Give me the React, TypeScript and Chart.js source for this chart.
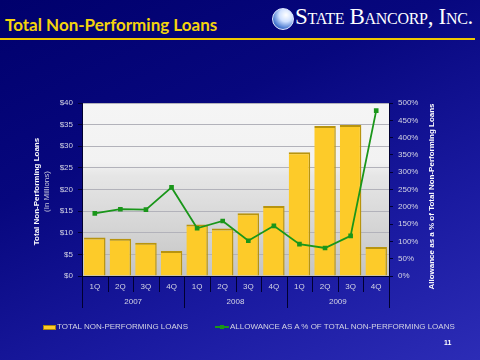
import React, { useEffect, useRef } from 'react';
import { Chart, registerables } from 'chart.js';

Chart.register(...registerables);

const FONT = '"Liberation Sans", Arial, sans-serif';

const quarters = ['1Q', '2Q', '3Q', '4Q', '1Q', '2Q', '3Q', '4Q', '1Q', '2Q', '3Q', '4Q'];
const years = ['2007', '2008', '2009'];
const nonPerformingLoans = [8.9, 8.6, 7.7, 5.8, 11.9, 11.0, 14.5, 16.2, 28.6, 34.7, 34.9, 6.7];
const allowancePct = [181, 193, 192, 256, 138, 159, 102, 145, 92, 81, 116, 478];

const barLabel = 'TOTAL NON-PERFORMING LOANS';
const lineLabel = 'ALLOWANCE AS A % OF TOTAL NON-PERFORMING LOANS';
const leftTitle = 'Total Non-Performing Loans';
const leftSubTitle = '(In Millions)';
const rightTitle = 'Allowance as a % of Total Non-Performing Loans';

const TICK_COLOR = '#d4d4e4';
const DARK = '#000030';

const plotBg = {
  id: 'plotBg',
  beforeDraw(chart: any) {
    const { ctx, chartArea: a } = chart;
    const g = ctx.createLinearGradient(0, a.top, 0, a.bottom);
    g.addColorStop(0, '#f5f5f5');
    g.addColorStop(0.34, '#f2f2f2');
    g.addColorStop(0.42, '#e6e6e6');
    g.addColorStop(0.7, '#d6d6d6');
    g.addColorStop(1, '#c4c4c4');
    ctx.save();
    ctx.fillStyle = g;
    ctx.fillRect(a.left, a.top, a.right - a.left, a.bottom - a.top);
    ctx.restore();
  },
};

const extras = {
  id: 'extras',
  afterDraw(chart: any) {
    const { ctx, chartArea } = chart;
    const x = chart.scales.x;
    const n = quarters.length;
    const step = (x.right - x.left) / n;
    const bottom = chartArea.bottom;
    ctx.save();
    ctx.strokeStyle = DARK;
    ctx.lineWidth = 1;
    for (let i = 0; i <= n; i++) {
      const px = Math.round(x.left + i * step) + 0.5;
      const isYear = i % 4 === 0;
      ctx.beginPath();
      ctx.moveTo(px, bottom);
      ctx.lineTo(px, bottom + (isYear ? 32 : 16));
      ctx.stroke();
    }
    ctx.fillStyle = TICK_COLOR;
    ctx.font = '8px ' + FONT;
    ctx.textAlign = 'center';
    ctx.textBaseline = 'middle';
    years.forEach((yr, j) => {
      const cx = x.left + (j * 4 + 2) * step;
      ctx.fillText(yr, cx, bottom + 26);
    });

    // left axis titles
    const yScale = chart.scales.y;
    const cy = (yScale.top + yScale.bottom) / 2 + 2;
    ctx.save();
    ctx.translate(37, cy);
    ctx.rotate(-Math.PI / 2);
    ctx.fillStyle = '#ffffff';
    ctx.font = 'bold 8px ' + FONT;
    ctx.fillText(leftTitle, 0, 0);
    ctx.restore();
    ctx.save();
    ctx.translate(47, cy);
    ctx.rotate(-Math.PI / 2);
    ctx.fillStyle = '#c8c8dc';
    ctx.font = '8px ' + FONT;
    ctx.fillText(leftSubTitle, 0, 0);
    ctx.restore();

    // right axis title
    ctx.save();
    ctx.translate(432, cy + 5);
    ctx.rotate(-Math.PI / 2);
    ctx.fillStyle = '#ffffff';
    ctx.font = 'bold 8px ' + FONT;
    ctx.fillText(rightTitle, 0, 0);
    ctx.restore();
    ctx.restore();
  },
};

export default function App() {
  const ref = useRef<HTMLCanvasElement>(null);

  useEffect(() => {
    if (!ref.current) return;
    const chart = new Chart(ref.current, {
      type: 'bar',
      data: {
        labels: quarters,
        datasets: [
          {
            type: 'line',
            label: lineLabel,
            data: allowancePct,
            yAxisID: 'y1',
            borderColor: '#1a961a',
            backgroundColor: '#1a961a',
            borderWidth: 1.8,
            pointStyle: 'rect',
            pointRadius: 2,
            pointBackgroundColor: '#1a961a',
            pointBorderColor: '#1a961a',
            tension: 0,
            order: 0,
          } as any,
          {
            type: 'bar',
            label: barLabel,
            data: nonPerformingLoans,
            yAxisID: 'y',
            backgroundColor: '#FDCB29',
            borderColor: '#B8940E',
            borderWidth: { left: 0, right: 1.5, top: 2, bottom: 0 } as any,
            barPercentage: 0.84,
            categoryPercentage: 1,
            order: 1,
          } as any,
        ],
      },
      options: {
        responsive: false,
        animation: false,
        devicePixelRatio: 1,
        layout: { padding: { top: 103, left: 0, right: 0, bottom: 0 } },
        plugins: {
          legend: { display: false },
          tooltip: { enabled: false },
          title: { display: false },
        },
        scales: {
          x: {
            grid: { display: false, drawTicks: false, tickLength: 0 },
            border: { display: true, color: DARK },
            ticks: {
              color: TICK_COLOR,
              font: { size: 8, family: FONT },
              padding: 6,
              maxRotation: 0,
              autoSkip: false,
            },
            afterFit(s: any) {
              s.height = 84;
            },
          },
          y: {
            position: 'left',
            min: 0,
            max: 40,
            ticks: {
              stepSize: 5,
              callback: (v: any) => '$' + v,
              color: TICK_COLOR,
              font: { size: 8, family: FONT },
              padding: 5,
            },
            grid: { color: '#b2b2ba', tickColor: DARK, tickLength: 4 },
            border: { display: true, color: DARK },
            afterFit(s: any) {
              s.width = 82;
            },
          },
          y1: {
            position: 'right',
            min: 0,
            max: 500,
            ticks: {
              stepSize: 50,
              callback: (v: any) => v + '%',
              color: TICK_COLOR,
              font: { size: 8, family: FONT },
              padding: 5,
            },
            grid: { drawOnChartArea: false, tickColor: DARK, tickLength: 4 },
            border: { display: true, color: DARK },
            afterFit(s: any) {
              s.width = 91;
            },
          },
        },
      } as any,
      plugins: [plotBg, extras],
    });
    return () => chart.destroy();
  }, []);

  return (
    <div
      style={{
        position: 'fixed',
        left: 0,
        top: 0,
        width: 480,
        height: 360,
        overflow: 'hidden',
        background: 'linear-gradient(155deg, #00006c 0%, #07077e 35%, #1a1aa0 70%, #2c2cb6 100%)',
        fontFamily: FONT,
      }}
    >
      <div
        style={{
          position: 'absolute',
          left: 5,
          top: 15,
          color: '#F4D40C',
          fontFamily: 'Lato, "Open Sans", sans-serif',
          fontWeight: 700,
          fontSize: 17,
          lineHeight: '20px',
          whiteSpace: 'nowrap',
        }}
      >
        Total Non-Performing Loans
      </div>
      <div
        style={{
          position: 'absolute',
          left: 272,
          top: 8,
          width: 20,
          height: 20,
          borderRadius: '50%',
          border: '1px solid #dfe8ff',
          background: 'radial-gradient(circle at 65% 30%, #ffffff 0%, #cfe0ff 35%, #4a7ad0 70%, #1a3a9a 100%)',
        }}
      />
      <div
        style={{
          position: 'absolute',
          left: 295,
          top: 3,
          color: '#ffffff',
          fontFamily: '"Liberation Serif", "DejaVu Serif", serif',
          fontVariant: 'small-caps',
          fontSize: 23,
          lineHeight: '28px',
          whiteSpace: 'nowrap',
          letterSpacing: -0.3,
        }}
      >
        State Bancorp, Inc.
      </div>
      <div style={{ position: 'absolute', left: 0, top: 38, width: 475, height: 2, background: '#F0C800' }} />
      <canvas
        ref={ref}
        width={480}
        height={360}
        style={{ position: 'absolute', left: 0, top: 0, width: 480, height: 360, display: 'block' }}
      />
      <div
        style={{
          position: 'absolute',
          left: 43,
          top: 325,
          width: 11,
          height: 3,
          background: '#FDCB29',
          border: '1px solid #A88410',
        }}
      />
      <div
        style={{
          position: 'absolute',
          left: 57,
          top: 322,
          color: TICK_COLOR,
          fontSize: 8,
          lineHeight: '10px',
          whiteSpace: 'nowrap',
        }}
      >
        {barLabel}
      </div>
      <div style={{ position: 'absolute', left: 215, top: 326, width: 14, height: 2, background: '#1a961a' }} />
      <div style={{ position: 'absolute', left: 220, top: 325, width: 4, height: 4, background: '#1a961a' }} />
      <div
        style={{
          position: 'absolute',
          left: 230,
          top: 322,
          color: TICK_COLOR,
          fontSize: 8,
          lineHeight: '10px',
          whiteSpace: 'nowrap',
        }}
      >
        {lineLabel}
      </div>
      <div
        style={{
          position: 'absolute',
          left: 444,
          top: 338,
          color: '#ffffff',
          fontSize: 7,
          fontWeight: 700,
          lineHeight: '10px',
        }}
      >
        11
      </div>
    </div>
  );
}
